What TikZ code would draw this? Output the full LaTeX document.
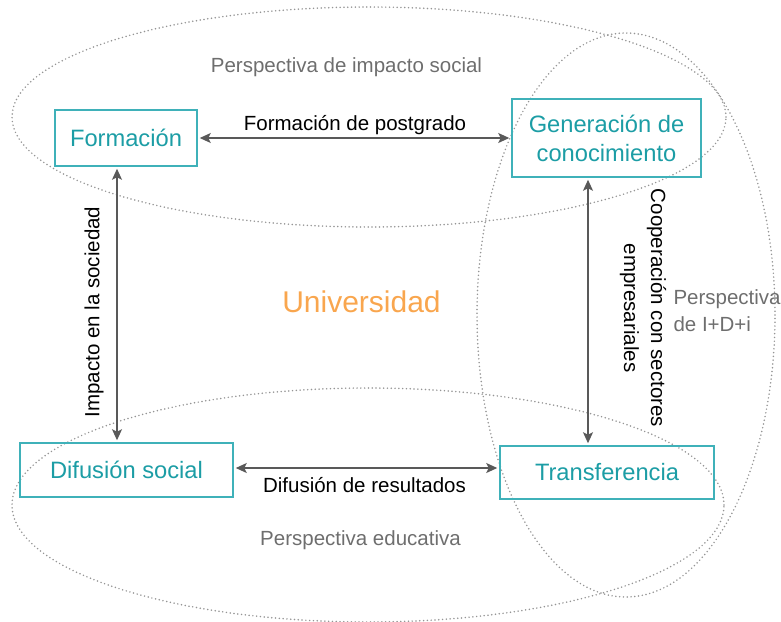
\documentclass[tikz,border=0pt]{standalone}
\usepackage{fontspec}
\setmainfont{Liberation Sans}
\usepackage{xcolor}
\usepackage{tikz}
\usetikzlibrary{arrows.meta}
\usetikzlibrary{positioning}
\usetikzlibrary{calc}
\definecolor{boxline}{HTML}{3FB1B9}
\definecolor{boxtext}{HTML}{1C9DA5}
\definecolor{uni}{HTML}{F9A64E}
\definecolor{persptext}{HTML}{6E6E6E}
\definecolor{depline}{HTML}{595959}
\definecolor{dots}{HTML}{959595}
\newcommand{\boxfont}{\fontsize{23.7}{29}\selectfont}
\newcommand{\lblfont}{\fontsize{20.5}{27}\selectfont}

\begin{document}
\begin{tikzpicture}[
  x=1pt,y=-1pt,
  dep/.style={
    {Stealth[length=11pt,width=10pt,inset=2.5pt]}-{Stealth[length=11pt,width=10pt,inset=2.5pt]},
    draw=depline,line width=1.3pt,
    shorten <=2pt,shorten >=2pt
  },
  box/.style 2 args={
    rectangle,
    draw=boxline,
    line width=1.5pt,
    text=boxtext,
    font=\boxfont,
    align=center,
    minimum width=#1,
    minimum height=#2},
  persp/.style={
    draw=dots,line width=1.7pt,line cap=round,
    dash pattern=on 0pt off 3.8pt},
  info/.style={
    text=persptext,
    font=\lblfont},
  lbl/.style={
    text=black,
    font=\lblfont,
    align=center},
]

  \useasboundingbox (0,0) rectangle (781,621);

    % Perspectives
    \draw[persp] (369,117) ellipse [x radius=357pt, y radius=110pt];
    \draw[persp] (626,315) ellipse [x radius=149pt, y radius=282pt];
    \draw[persp] (368,505) ellipse [x radius=356pt, y radius=117pt];

    \node[info] (impsoc) at (346.5,67) {Perspectiva de impacto social};
    \node[info] (educ) at (360.5,540) {Perspectiva educativa};
    \node[info,anchor=west,align=left] (idi) at (670,311) {Perspectiva\\de I+D+i};

    % Boxes
    \node[box={142pt}{56pt}] (form) at (126,138) {Formación};
    \node[box={189pt}{78pt}] (gen) at (606.5,138) {Generación de\\conocimiento};
    \node[box={213pt}{54pt}] (difu) at (126.5,470) {Difusión social};
    \node[box={214pt}{53pt}] (tran) at (607,472.5) {Transferencia};

    \node[text=uni,font=\fontsize{30}{36}\selectfont] (univ) at (361.5,302) {Universidad};

    % Links
    \draw[dep] (form.east) to (gen.west);
    \draw[dep] ([xshift=-9pt]form.south) to ([xshift=-9pt]form.south |- difu.north);
    \draw[dep] ([xshift=-18.5pt]gen.south) to ([xshift=-18.5pt]gen.south |- tran.north);
    \draw[dep] ([yshift=2pt]difu.east) to ([yshift=2pt]difu.east -| tran.west);

    \node[lbl] (postg) at (355,125) {Formación de postgrado};
    \node[lbl] (result) at (364.5,485) {Difusión de resultados};
    \node[lbl,rotate=90] (impact) at (94,312) {Impacto en la sociedad};
    \node[lbl,rotate=-90] (coop) at (643,308) {Cooperación con sectores\\empresariales};

\end{tikzpicture}
\end{document}
